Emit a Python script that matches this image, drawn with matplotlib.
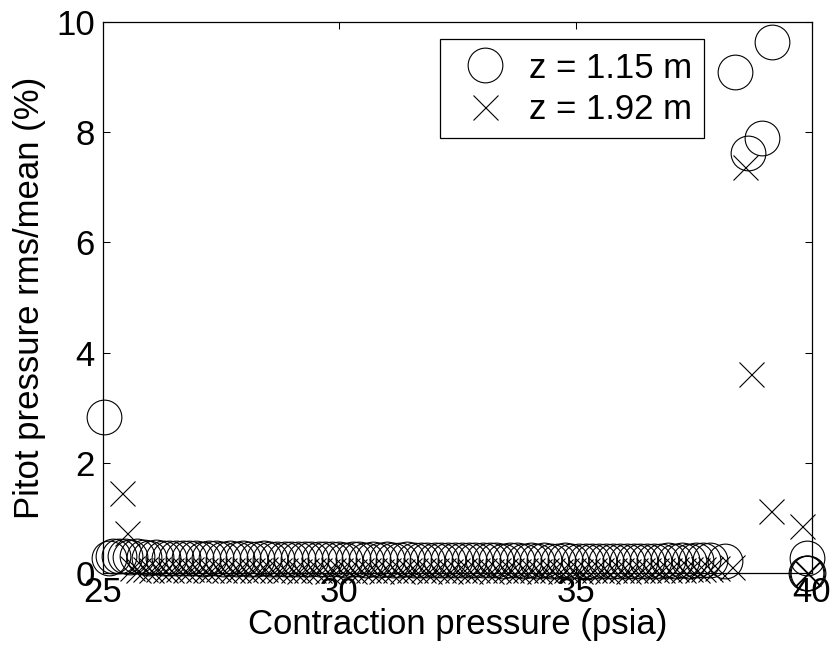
import matplotlib
matplotlib.use('Agg')
import matplotlib.pyplot as plt

# Pitot pressure fluctuation (rms/mean, %) against contraction pressure (psia)
p115_x = [25.02, 25.12, 25.21, 25.33, 25.47, 25.58, 25.71, 25.86, 25.98, 26.13,
          26.27, 26.40, 26.55, 26.69, 26.82, 26.97, 27.12, 27.25, 27.40, 27.53,
          27.69, 27.83, 27.96, 28.12, 28.25, 28.41, 28.54, 28.68, 28.84, 28.97,
          29.12, 29.27, 29.40, 29.56, 29.69, 29.84, 29.99, 30.12, 30.28, 30.41,
          30.57, 30.71, 30.85, 31.00, 31.14, 31.29, 31.44, 31.57, 31.73, 31.86,
          32.02, 32.16, 32.30, 32.45, 32.59, 32.75, 32.88, 33.03, 33.18, 33.31,
          33.47, 33.61, 33.76, 33.90, 34.05, 34.19, 34.34, 34.48, 34.63, 34.78,
          34.91, 35.07, 35.21, 35.35, 35.50, 35.64, 35.80, 35.93, 36.08, 36.23,
          36.37, 36.52, 36.66, 36.81, 36.95, 37.11, 37.25, 37.39, 37.55, 37.70,
          37.84, 38.16, 38.38, 38.65, 38.95, 39.15, 39.89, 39.88, 39.90, 39.92]
p115_y = [2.84, 0.27, 0.30, 0.31, 0.30, 0.29, 0.30, 0.29, 0.28, 0.29,
          0.28, 0.27, 0.28, 0.27, 0.28, 0.27, 0.26, 0.27, 0.27, 0.26,
          0.27, 0.26, 0.27, 0.26, 0.26, 0.27, 0.25, 0.26, 0.26, 0.25,
          0.26, 0.25, 0.26, 0.25, 0.25, 0.26, 0.25, 0.24, 0.25, 0.25,
          0.24, 0.25, 0.24, 0.25, 0.24, 0.24, 0.25, 0.24, 0.24, 0.23,
          0.24, 0.23, 0.24, 0.23, 0.24, 0.23, 0.23, 0.24, 0.23, 0.23,
          0.22, 0.23, 0.23, 0.22, 0.23, 0.22, 0.23, 0.22, 0.22, 0.23,
          0.22, 0.22, 0.21, 0.22, 0.22, 0.21, 0.22, 0.21, 0.22, 0.21,
          0.22, 0.21, 0.22, 0.22, 0.23, 0.22, 0.23, 0.22, 0.24, 0.23,
          0.24, 0.22, 9.10, 7.62, 7.90, 9.64, 0.27, 0.00, 0.00, 0.00]

p192_x = [25.40, 25.50, 25.62, 25.75, 25.89, 26.02, 26.16, 26.31, 26.44, 26.58,
          26.73, 26.86, 27.01, 27.15, 27.28, 27.44, 27.57, 27.72, 27.86, 28.00,
          28.15, 28.29, 28.43, 28.58, 28.72, 28.86, 29.01, 29.15, 29.30, 29.44,
          29.58, 29.73, 29.87, 30.02, 30.16, 30.31, 30.45, 30.60, 30.74, 30.89,
          31.03, 31.18, 31.32, 31.47, 31.61, 31.76, 31.90, 32.05, 32.19, 32.34,
          32.48, 32.63, 32.77, 32.92, 33.06, 33.21, 33.35, 33.50, 33.64, 33.79,
          33.93, 34.08, 34.22, 34.37, 34.51, 34.66, 34.80, 34.95, 35.09, 35.24,
          35.38, 35.53, 35.67, 35.82, 35.96, 36.11, 36.25, 36.40, 36.54, 36.69,
          36.83, 36.98, 37.12, 37.27, 37.41, 37.56, 37.70, 37.85, 37.99, 38.30,
          38.58, 38.72, 39.13, 39.78, 39.89, 39.91]
p192_y = [1.45, 0.72, 0.09, 0.06, 0.07, 0.05, 0.08, 0.06, 0.05, 0.07,
          0.05, 0.07, 0.05, 0.06, 0.05, 0.07, 0.05, 0.06, 0.05, 0.05,
          0.06, 0.05, 0.07, 0.05, 0.05, 0.06, 0.05, 0.04, 0.06, 0.05,
          0.05, 0.04, 0.06, 0.05, 0.05, 0.04, 0.05, 0.05, 0.06, 0.04,
          0.05, 0.05, 0.04, 0.05, 0.05, 0.06, 0.04, 0.05, 0.05, 0.04,
          0.05, 0.06, 0.04, 0.05, 0.05, 0.04, 0.05, 0.05, 0.06, 0.04,
          0.05, 0.05, 0.04, 0.05, 0.06, 0.04, 0.05, 0.05, 0.04, 0.05,
          0.05, 0.06, 0.04, 0.05, 0.05, 0.04, 0.06, 0.05, 0.05, 0.05,
          0.06, 0.05, 0.07, 0.06, 0.07, 0.06, 0.08, 0.07, 0.09, 0.10,
          7.37, 3.62, 1.13, 0.85, 0.00, 0.00]

plt.rcParams['font.family'] = ['Liberation Sans', 'DejaVu Sans']

fig = plt.figure(figsize=(8.35, 6.59), dpi=100)
ax = fig.add_axes([0.1234, 0.1305, 0.849, 0.836])

ax.plot(p115_x, p115_y, linestyle='none', marker='o', markersize=25,
        markerfacecolor='none', markeredgecolor='black', markeredgewidth=0.8,
        clip_on=False, label='z = 1.15 m')
ax.plot(p192_x, p192_y, linestyle='none', marker='x', markersize=18,
        markeredgecolor='black', markeredgewidth=0.8,
        clip_on=False, label='z = 1.92 m')

ax.set_xlim(25, 40)
ax.set_ylim(0, 10)
ax.set_xticks([25, 30, 35, 40])
ax.set_yticks([0, 2, 4, 6, 8, 10])

ax.tick_params(direction='in', top=True, right=True, length=5, width=0.75,
               labelsize=25)
ax.tick_params(axis='x', pad=2)
ax.tick_params(axis='y', pad=6)
for s in ax.spines.values():
    s.set_linewidth(0.9)

ax.set_xlabel('Contraction pressure (psia)', fontsize=25)
ax.set_ylabel('Pitot pressure rms/mean (%)', fontsize=25)
ax.xaxis.set_label_coords(0.5, -0.063)
ax.yaxis.set_label_coords(-0.080, 0.5)

leg = ax.legend(loc='upper right', bbox_to_anchor=(0.8477, 0.9686),
                borderaxespad=0, fontsize=25, fancybox=False, framealpha=1,
                edgecolor='black', borderpad=0.35, handlelength=1.9,
                handletextpad=0.3, labelspacing=0.25)
leg.get_frame().set_linewidth(0.9)

fig.savefig('out.png', dpi=100)
